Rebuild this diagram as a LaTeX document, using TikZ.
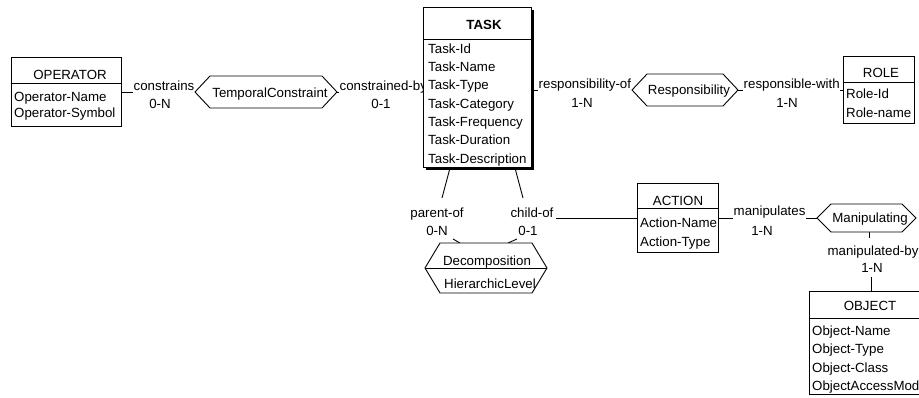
\documentclass[tikz,border=0pt]{standalone}
\usepackage{fontspec}
\setmainfont{Liberation Sans}
\newcommand\fs{\fontsize{13.3}{16}\selectfont}
\newcommand\hexshape[6]{% name, left tip x, right tip x, top y, bottom y, slant
  \coordinate (#1-w) at (#2,{(#4+#5)/2});
  \coordinate (#1-e) at (#3,{(#4+#5)/2});
  \coordinate (#1-nw) at ({#2+#6},#4);
  \coordinate (#1-ne) at ({#3-#6},#4);
  \coordinate (#1-sw) at ({#2+#6},#5);
  \coordinate (#1-se) at ({#3-#6},#5);
}
\tikzset{
  conn/.style={line width=0.9pt},
  lbl/.style={font=\fs, inner xsep=0.5pt, inner ysep=0pt, text depth=3.5pt, fill=white},
  card/.style={font=\fs, inner sep=0pt, anchor=base},
  ent/.style={draw, line width=0.9pt, fill=white, inner sep=0pt},
  ttl/.style={font=\fs, inner sep=0pt, anchor=base},
  itm/.style={font=\fs, inner sep=0pt, anchor=base west},
  hexbox/.style={draw, line width=0.9pt, fill=white},
}
\begin{document}
\begin{tikzpicture}[x=1pt,y=-1pt]
\clip (0,0) rectangle (919,397);
\fill[white] (0,0) rectangle (919,397);

% hexagon geometry
\hexshape{tc}{195}{337}{76}{108}{15}
\hexshape{rs}{632}{738}{74}{106}{15}
\hexshape{mp}{817}{916}{204}{232}{14}
\hexshape{dc}{425}{547}{243}{293}{15}

% entity boxes geometry (drawn later)
\coordinate (opE) at (121,92);
\coordinate (taW) at (423,92);
\coordinate (taE) at (531,90);
\coordinate (roW) at (843,90);
\coordinate (acW) at (637,218);
\coordinate (acE) at (718,218);

% connectors
\draw[conn] (opE) -- (tc-w);
\draw[conn] (tc-e) -- (taW);
\draw[conn] (taE) -- (rs-w);
\draw[conn] (rs-e) -- (roW);
\draw[conn] (acE) -- (mp-w);

% labels on connectors
\node[lbl, anchor=base west] (constrains) at (133,90) {constrains};
\node[card] (c0N) at (160,108) {0-N};
\node[lbl, anchor=base west] (constrainedby) at (339,90) {constrained-by};
\node[card] (c01) at (381,108) {0-1};
\node[lbl, anchor=base west] (respof) at (538,88) {responsibility-of};
\node[card] (c1Na) at (582,107) {1-N};
\node[lbl, anchor=base west] (respwith) at (743,88) {responsible-with};
\node[card] (c1Nb) at (787,107) {1-N};
\node[lbl, anchor=base west] (manipulates) at (733,215) {manipulates};
\node[card] (c1Nc) at (762,235) {1-N};

\node[card] (parentof) at (437,217) {parent-of};
\node[card] (p0N) at (437,235) {0-N};
\node[card] (childof) at (532,217) {child-of};
\node[card] (ch01) at (528,235) {0-1};
\node[card] (manipby) at (873,255) {manipulated-by};
\node[card] (c1Nd) at (872,272) {1-N};

% decomposition connectors
\coordinate (pa1) at (450,168);
\coordinate (pa2) at (442,198);
\coordinate (pa3) at (453,239);
\coordinate (pa4) at (460,243);
\coordinate (ch1) at (515,168);
\coordinate (ch2) at (523,198);
\coordinate (ch3) at (517,239);
\coordinate (ch4) at (508,243);
\draw[conn] (pa1) -- (pa2);
\draw[conn] (pa3) -- (pa4);
\draw[conn] (ch1) -- (ch2);
\draw[conn] (ch3) -- (ch4);
\draw[conn] (childof.base east) ++(2,1) -- (acW);

% manipulating -> object
\coordinate (mp-s) at (869,232);
\coordinate (mb1) at (869,238);
\coordinate (mb2) at (871,277);
\coordinate (obN) at (871,291);
\draw[conn] (mp-s) -- (mb1);
\draw[conn] (mb2) -- (obN);

% hexagons
\draw[hexbox] (tc-w) -- (tc-nw) -- (tc-ne) -- (tc-e) -- (tc-se) -- (tc-sw) -- cycle;
\node[ttl] (tcl) at (270,97) {TemporalConstraint};
\draw[hexbox] (rs-w) -- (rs-nw) -- (rs-ne) -- (rs-e) -- (rs-se) -- (rs-sw) -- cycle;
\node[ttl] (rsl) at (689,94) {Responsibility};
\draw[hexbox] (mp-w) -- (mp-nw) -- (mp-ne) -- (mp-e) -- (mp-se) -- (mp-sw) -- cycle;
\node[ttl] (mpl) at (870,222) {Manipulating};
\draw[hexbox] (dc-w) -- (dc-nw) -- (dc-ne) -- (dc-e) -- (dc-se) -- (dc-sw) -- cycle;
\draw[conn] (dc-w) -- (dc-e);
\node[ttl] (dcl) at (487,265) {Decomposition};
\node[ttl] (dcl2) at (490,288) {HierarchicLevel};

% OPERATOR
\node[ent, minimum width=110pt, minimum height=69pt] (operator) at (66,91.5) {};
\draw[conn] (operator.west |- 0,83) -- (operator.east |- 0,83);
\node[ttl] (opt) at (70,79) {OPERATOR};
\node[itm] (op1) at (14,101) {Operator-Name};
\node[itm] (op2) at (14,117) {Operator-Symbol};

% TASK
\fill[black] (425.5,9.5) rectangle (534,170);
\node[ent, minimum width=108pt, minimum height=160pt] (task) at (477,87) {};
\draw[conn] (task.west |- 0,39) -- (task.east |- 0,39);
\node[ttl, font=\fs\bfseries] (tat) at (484,29) {TASK};
\node[itm] (ta1) at (428,53) {Task-Id};
\node[itm] (ta2) at (428,71) {Task-Name};
\node[itm] (ta3) at (428,89.5) {Task-Type};
\node[itm] (ta4) at (428,108) {Task-Category};
\node[itm] (ta5) at (428,126) {Task-Frequency};
\node[itm] (ta6) at (428,144.5) {Task-Duration};
\node[itm] (ta7) at (428,163) {Task-Description};

% ROLE
\node[ent, minimum width=71pt, minimum height=67pt] (role) at (878.5,89.5) {};
\draw[conn] (role.west |- 0,82) -- (role.east |- 0,82);
\node[ttl] (rot) at (881,77) {ROLE};
\node[itm] (ro1) at (846,98) {Role-Id};
\node[itm] (ro2) at (846,117) {Role-name};
\fill[white] (914.5,60) rectangle (919,125);

% ACTION
\node[ent, minimum width=81pt, minimum height=69pt] (action) at (677.5,217.5) {};
\draw[conn] (action.west |- 0,208) -- (action.east |- 0,208);
\node[ttl] (act) at (678,205) {ACTION};
\node[itm] (ac1) at (640,227) {Action-Name};
\node[itm] (ac2) at (640,246) {Action-Type};

% OBJECT
\node[ent, minimum width=122pt, minimum height=103pt] (object) at (870,342.5) {};
\draw[conn] (object.west |- 0,318) -- (object.east |- 0,318);
\node[ttl] (obt) at (870,310) {OBJECT};
\node[itm] (ob1) at (812,335) {Object-Name};
\node[itm] (ob2) at (812,353) {Object-Type};
\node[itm] (ob3) at (812,372) {Object-Class};
\node[itm] (ob4) at (812,390) {ObjectAccessMode};
\end{tikzpicture}
\end{document}
